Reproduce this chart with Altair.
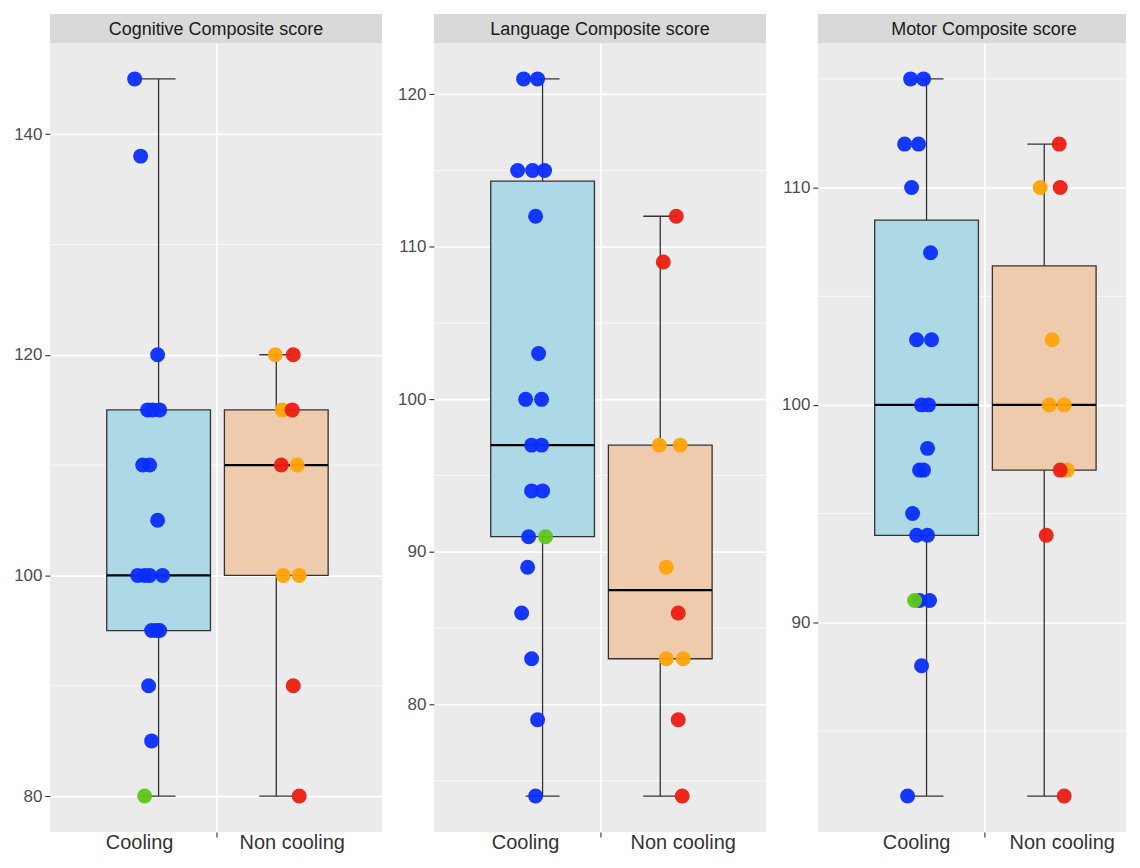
import altair as alt
import pandas as pd

# ---------------- data ----------------
PANEL_TITLES = ["Cognitive Composite score", "Language Composite score", "Motor Composite score"]
GROUPS = ["Cooling", "Non cooling"]

# box statistics: lower whisker, Q1, median, Q3, upper whisker
cog_cool_box = [80, 95, 100, 115, 145]
cog_non_box = [80, 100, 110, 115, 120]
lang_cool_box = [74, 91, 97, 114.3, 121]
lang_non_box = [74, 83, 87.5, 97, 112]
mot_cool_box = [82, 94, 100, 108.5, 115]
mot_non_box = [82, 97, 100, 106.4, 112]

# individual scores, their colour class and horizontal jitter (px) as read
cog_cool_vals = [145, 138, 120, 115, 115, 115, 110, 110, 105, 100, 100, 100, 100, 95, 95, 95, 90, 85, 80]
cog_cool_cls = ["b"] * 18 + ["g"]
cog_cool_jit = [-24, -18, -1, -11, -6, 1, -16, -9, -1, -21, -14, -9, 4, -7, -2, 1, -10, -7, -14]

cog_non_vals = [120, 120, 115, 115, 110, 110, 100, 100, 90, 80]
cog_non_cls = ["o", "r", "o", "r", "r", "o", "o", "o", "r", "r"]
cog_non_jit = [-1, 17, 6, 16, 5, 21, 7, 23, 17, 23]

lang_cool_vals = [121, 121, 115, 115, 115, 112, 103, 100, 100, 97, 97, 94, 94, 91, 91, 89, 86, 83, 79, 74]
lang_cool_cls = ["b"] * 14 + ["g"] + ["b"] * 5
lang_cool_jit = [-19, -5, -25, -10, 2, -7, -4, -17, -1, -11, -1, -11, 0, -14, 3, -15, -21, -11, -5, -7]

lang_non_vals = [112, 109, 97, 97, 89, 86, 83, 83, 79, 74]
lang_non_cls = ["r", "r", "o", "o", "o", "r", "o", "o", "r", "r"]
lang_non_jit = [16, 3, -1, 20, 6, 18, 6, 23, 18, 22]

mot_cool_vals = [115, 115, 112, 112, 110, 107, 103, 103, 100, 100, 98, 97, 97, 95, 94, 94, 91, 91, 91, 88, 82]
mot_cool_cls = ["b"] * 18 + ["g", "b", "b"]
mot_cool_jit = [-16, -3, -22, -8, -15, 4, -10, 5, -5, 2, 1, -7, -3, -14, -10, 1, -7, 3, -12, -5, -19]

mot_non_vals = [112, 110, 110, 103, 100, 100, 97, 97, 94, 82]
mot_non_cls = ["r", "o", "r", "o", "o", "o", "o", "r", "r", "r"]
mot_non_jit = [15, -4, 16, 8, 5, 20, 23, 16, 2, 20]

# axis ticks
cog_major = [80, 100, 120, 140]
cog_minor = [90, 110, 130]
lang_major = [80, 90, 100, 110, 120]
lang_minor = [75, 85, 95, 105, 115]
mot_major = [90, 100, 110]
mot_minor = [85, 95, 105, 115]

# ---------------- styling / layout ----------------
POINT_COLORS = {"b": "#0A2DFF", "g": "#5EC717", "o": "#FFA30A", "r": "#EC1C10"}
BOX_FILLS = {"Cooling": "#ADD8E6", "Non cooling": "#EECBAD"}
FONT = "Liberation Sans"
PLOT_H = 791
STRIP_H = 29
LABEL_DY = 17
X_CENTER = {"Cooling": 109, "Non cooling": 227}   # px within the panel
BOX_HALF = 52
CAP_HALF = 17
MID_TICK = 166.5


def expand(lo, hi):
    r = hi - lo
    return [lo - 0.05 * r, hi + 0.05 * r]


def panel(title, boxes, points, major, minor, width, label_x):
    rows = []
    for g, b in zip(GROUPS, boxes):
        rows.append(dict(group=g, lo=b[0], q1=b[1], med=b[2], q3=b[3], hi=b[4],
                         xc=X_CENTER[g], fill=BOX_FILLS[g]))
    box_df = pd.DataFrame(rows)
    prow = []
    for g, (vals, cls, jit) in zip(GROUPS, points):
        for v, c, j in zip(vals, cls, jit):
            prow.append(dict(group=g, v=v, col=POINT_COLORS[c], px=X_CENTER[g] + j))
    pt_df = pd.DataFrame(prow)
    lo = min(b[0] for b in boxes)
    hi = max(b[4] for b in boxes)
    yscale = alt.Scale(domain=expand(lo, hi), nice=False, zero=False)
    xscale = alt.Scale(domain=[0, width], nice=False, zero=False)
    yaxis = alt.Axis(values=major, format="d", title=None, domain=False, grid=True,
                     gridColor="white", gridWidth=1.7, tickSize=5, tickColor="#333333",
                     tickWidth=1.1, labelPadding=3, labelFontSize=17, labelColor="#4D4D4D",
                     labelFont=FONT)
    xaxis = alt.Axis(values=[MID_TICK], labels=False, title=None, domain=False, grid=True,
                     gridColor="white", gridWidth=1.7, tickSize=5, tickColor="#333333",
                     tickWidth=1.1)

    minor_layer = alt.Chart(pd.DataFrame({"m": minor})).mark_rule(
        color="white", strokeWidth=0.8).encode(
        y=alt.Y("m:Q", scale=yscale, axis=yaxis))

    base = alt.Chart(box_df)
    whisk = base.mark_rule(color="#333333", strokeWidth=1.3).encode(
        x=alt.X("xc:Q", scale=xscale, axis=xaxis),
        y=alt.Y("lo:Q", scale=yscale, axis=yaxis), y2="hi:Q")
    cap_lo = base.transform_calculate(
        cl=f"datum.xc - {CAP_HALF}", cr=f"datum.xc + {CAP_HALF}").mark_rule(
        color="#333333", strokeWidth=1.3).encode(
        x=alt.X("cl:Q", scale=xscale, axis=xaxis), x2="cr:Q",
        y=alt.Y("lo:Q", scale=yscale, axis=yaxis))
    cap_hi = base.transform_calculate(
        cl=f"datum.xc - {CAP_HALF}", cr=f"datum.xc + {CAP_HALF}").mark_rule(
        color="#333333", strokeWidth=1.3).encode(
        x=alt.X("cl:Q", scale=xscale, axis=xaxis), x2="cr:Q",
        y=alt.Y("hi:Q", scale=yscale, axis=yaxis))
    box = base.transform_calculate(
        bl=f"datum.xc - {BOX_HALF}", br=f"datum.xc + {BOX_HALF}").mark_rect(
        stroke="#333333", strokeWidth=1.3).encode(
        x=alt.X("bl:Q", scale=xscale, axis=xaxis), x2="br:Q",
        y=alt.Y("q1:Q", scale=yscale, axis=yaxis), y2="q3:Q",
        fill=alt.Fill("fill:N", scale=None))
    med = base.transform_calculate(
        bl=f"datum.xc - {BOX_HALF}", br=f"datum.xc + {BOX_HALF}").mark_rule(
        color="black", strokeWidth=2.4).encode(
        x=alt.X("bl:Q", scale=xscale, axis=xaxis), x2="br:Q",
        y=alt.Y("med:Q", scale=yscale, axis=yaxis))
    pts = alt.Chart(pt_df).mark_circle(size=225, opacity=0.95).encode(
        x=alt.X("px:Q", scale=xscale, axis=xaxis),
        y=alt.Y("v:Q", scale=yscale, axis=yaxis),
        color=alt.Color("col:N", scale=None))

    one = pd.DataFrame({"t": [title]})
    strip = alt.Chart(one).mark_rect(color="#D9D9D9").encode(
        x=alt.value(0), x2=alt.value(width), y=alt.value(-STRIP_H), y2=alt.value(0))
    strip_txt = alt.Chart(one).mark_text(
        font=FONT, fontSize=18, color="#1A1A1A", baseline="middle", align="center").encode(
        x=alt.value(MID_TICK), y=alt.value(-STRIP_H / 2 + 1), text="t:N")

    lab_df = pd.DataFrame({"g": GROUPS, "lx": label_x})
    labels = alt.Chart(lab_df).mark_text(
        font=FONT, fontSize=20, color="#333333", baseline="alphabetic", align="center").encode(
        x=alt.X("lx:Q", scale=xscale, axis=xaxis), y=alt.value(PLOT_H + LABEL_DY), text="g:N")

    return alt.layer(minor_layer, whisk, cap_lo, cap_hi, box, med, pts, strip, strip_txt, labels
                     ).properties(width=width, height=PLOT_H)


p1 = panel(PANEL_TITLES[0], [cog_cool_box, cog_non_box],
           [(cog_cool_vals, cog_cool_cls, cog_cool_jit), (cog_non_vals, cog_non_cls, cog_non_jit)],
           cog_major, cog_minor, 333, [90, 243])
p2 = panel(PANEL_TITLES[1], [lang_cool_box, lang_non_box],
           [(lang_cool_vals, lang_cool_cls, lang_cool_jit), (lang_non_vals, lang_non_cls, lang_non_jit)],
           lang_major, lang_minor, 333, [92, 250])
p3 = panel(PANEL_TITLES[2], [mot_cool_box, mot_non_box],
           [(mot_cool_vals, mot_cool_cls, mot_cool_jit), (mot_non_vals, mot_non_cls, mot_non_jit)],
           mot_major, mot_minor, 309, [99, 245])

chart = alt.hconcat(p1, p2, p3, spacing=14).configure_view(fill="#EBEBEB", stroke=None)

chart.save("out.html", embed_options={"renderer": "svg", "actions": False})
